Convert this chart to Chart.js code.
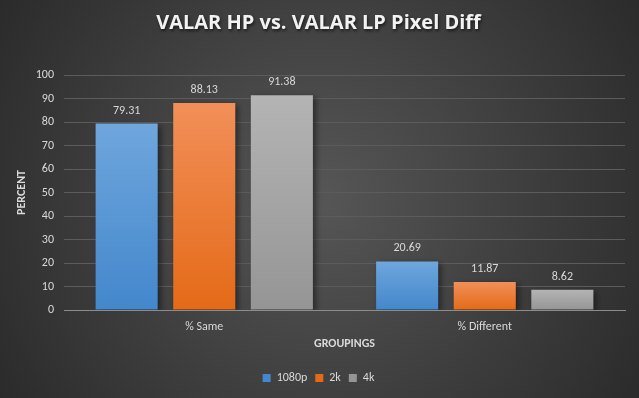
<!DOCTYPE html>
<html lang="en">
<head>
<meta charset="UTF-8">
<title>VALAR HP vs. VALAR LP Pixel Diff</title>
<script src="https://cdn.jsdelivr.net/npm/chart.js"></script>
<style>
    html, body { margin: 0; padding: 0; background: #3c3c3c; }
    #wrap { width: 639px; height: 398px; position: relative; }
</style>
</head>
<body>
<div id="wrap"><canvas id="myChart"></canvas></div>
<script>
    // data
    const groupings = ['% Same', '% Different'];
    const res1080p = [79.31, 20.69];
    const res2k = [88.13, 11.87];
    const res4k = [91.38, 8.62];

    const txt = '#d9d9d9';
    const fontFam = "Carlito, 'Liberation Sans', Arial, sans-serif";
    const titleFont = { family: "'Open Sans', sans-serif", size: 20, weight: 'bold' };

    // vertical gradient per bar, lighter at the top
    function barFill(top, bottom) {
        return (c) => {
            const chart = c.chart;
            if (!chart.chartArea || c.parsed == null) return bottom;
            const y = chart.scales.y;
            const y0 = y.getPixelForValue(0);
            const y1 = y.getPixelForValue(c.parsed.y);
            const g = chart.ctx.createLinearGradient(0, y1, 0, y0);
            g.addColorStop(0, top);
            g.addColorStop(1, bottom);
            return g;
        };
    }

    const background = {
        id: 'background',
        beforeDraw(chart) {
            const { ctx, width, height } = chart;
            const g = ctx.createRadialGradient(width / 2, height / 2, 10, width / 2, height / 2, width * 0.6);
            g.addColorStop(0, '#555555');
            g.addColorStop(1, '#2a2a2a');
            ctx.save();
            ctx.fillStyle = g;
            ctx.fillRect(0, 0, width, height);
            ctx.restore();
        }
    };

    const barShadow = {
        id: 'barShadow',
        beforeDatasetsDraw(chart) {
            const ctx = chart.ctx;
            ctx.save();
            ctx.shadowColor = 'rgba(0,0,0,0.45)';
            ctx.shadowBlur = 6;
            ctx.shadowOffsetX = 3;
            ctx.shadowOffsetY = 2;
        },
        afterDatasetsDraw(chart) {
            chart.ctx.restore();
        }
    };

    const valueLabels = {
        id: 'valueLabels',
        afterDatasetsDraw(chart) {
            const ctx = chart.ctx;
            ctx.save();
            ctx.fillStyle = txt;
            ctx.font = '12px ' + fontFam;
            ctx.textAlign = 'center';
            ctx.textBaseline = 'alphabetic';
            chart.data.datasets.forEach((ds, i) => {
                chart.getDatasetMeta(i).data.forEach((bar, j) => {
                    ctx.fillText(ds.data[j].toFixed(2), bar.x, bar.y - 10);
                });
            });
            ctx.restore();
        }
    };

    // the built-in title keeps the space, this one draws it with a soft shadow
    const shadowTitle = {
        id: 'shadowTitle',
        afterDraw(chart) {
            const tb = chart.titleBlock;
            if (!tb) return;
            const ctx = chart.ctx;
            const pad = chart.options.plugins.title.padding;
            ctx.save();
            ctx.font = 'bold ' + titleFont.size + 'px ' + titleFont.family;
            ctx.fillStyle = '#f2f2f2';
            ctx.textAlign = 'center';
            ctx.textBaseline = 'middle';
            ctx.shadowColor = 'rgba(0,0,0,0.6)';
            ctx.shadowBlur = 3;
            ctx.shadowOffsetX = 1;
            ctx.shadowOffsetY = 2;
            ctx.fillText(chart.options.plugins.title.text, (tb.left + tb.right) / 2, tb.top + pad.top + titleFont.size * 0.6);
            ctx.restore();
        }
    };

    const ctx = document.getElementById('myChart').getContext('2d');
    const myChart = new Chart(ctx, {
        type: 'bar',
        data: {
            labels: groupings,
            datasets: [
                { label: '1080p', data: res1080p, backgroundColor: barFill('#6fa6dd', '#4387cc') },
                { label: '2k', data: res2k, backgroundColor: barFill('#f28f59', '#e46a17') },
                { label: '4k', data: res4k, backgroundColor: barFill('#b4b4b4', '#959595') }
            ]
        },
        options: {
            responsive: true,
            maintainAspectRatio: false,
            animation: false,
            layout: { padding: { left: 12, right: 14, top: 0, bottom: 4 } },
            datasets: { bar: { categoryPercentage: 0.83, barPercentage: 0.8 } },
            plugins: {
                title: {
                    display: true,
                    text: 'VALAR HP vs. VALAR LP Pixel Diff',
                    color: 'rgba(0,0,0,0)',
                    font: titleFont,
                    padding: { top: 11, bottom: 40 }
                },
                legend: {
                    position: 'bottom',
                    labels: {
                        color: txt,
                        font: { family: fontFam, size: 12 },
                        boxWidth: 8,
                        boxHeight: 8,
                        padding: 8
                    }
                },
                tooltip: { enabled: false }
            },
            scales: {
                x: {
                    afterFit: (s) => { s.height = 54; },
                    grid: { display: false },
                    border: { color: '#8c8c8c' },
                    ticks: { color: txt, font: { family: fontFam, size: 12 }, padding: 2 },
                    title: {
                        display: true,
                        text: 'GROUPINGS',
                        color: txt,
                        font: { family: fontFam, size: 12, weight: 'bold' },
                        padding: { top: 0, bottom: 13 }
                    }
                },
                y: {
                    afterFit: (s) => { s.width = 52; },
                    min: 0,
                    max: 100,
                    ticks: { stepSize: 10, color: txt, font: { family: fontFam, size: 12 }, padding: 10 },
                    grid: { color: '#5c5c5c', drawTicks: false },
                    border: { display: false },
                    title: {
                        display: true,
                        text: 'PERCENT',
                        color: txt,
                        font: { family: fontFam, size: 12, weight: 'bold' },
                        padding: { top: 3, bottom: 0 }
                    }
                }
            }
        },
        plugins: [background, barShadow, valueLabels, shadowTitle]
    });
</script>
</body>
</html>
